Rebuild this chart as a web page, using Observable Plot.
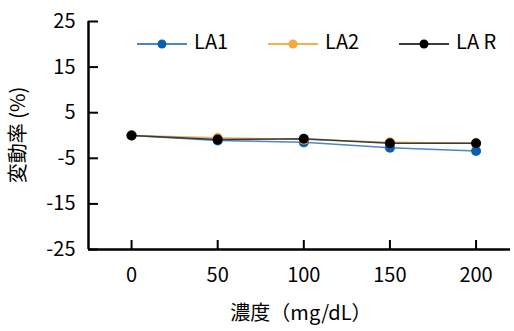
<!DOCTYPE html>
<html><head><meta charset="utf-8">
<script src="https://cdn.jsdelivr.net/npm/d3@7"></script>
<script src="https://cdn.jsdelivr.net/npm/@observablehq/plot@0.6"></script>
<style>
html,body{margin:0;padding:0;background:#fff;}
#wrap{position:relative;width:514px;height:331px;font-family:"Noto Sans CJK JP",sans-serif;}
</style></head>
<body><div id="wrap"></div>
<script>
const concentrations = [0, 50, 100, 150, 200];
const seriesNames = ["LA1", "LA2", "LA R"];
const la1 = [0, -1.1, -1.5, -2.7, -3.4];
const la2 = [0, -0.5, -0.9, -1.5, -1.7];
const laR = [0, -0.9, -0.7, -1.7, -1.7];
const yTicks = [25, 15, 5, -5, -15, -25];
const xTicks = [0, 50, 100, 150, 200];
const xDomain = [-25, 220];
const yDomain = [-25, 25];
const lineColors = ["#4a86c8", "#f7b04a", "#3a3a3a"];
const dotColors = ["#0a5fb4", "#f5a93a", "#000000"];

const values = [la1, la2, laR];
const data = [];
seriesNames.forEach((s, i) => concentrations.forEach((c, j) => data.push({series: s, x: c, y: values[i][j], idx: i})));

const W = 514, H = 331, mL = 88, mR = 4, mT = 21, mB = 82;
const fs = 20;

const marks = [];
seriesNames.forEach((s, i) => {
  const d = data.filter(r => r.series === s);
  marks.push(Plot.line(d, {x: "x", y: "y", stroke: lineColors[i], strokeWidth: 1.5}));
  marks.push(Plot.dot(d, {x: "x", y: "y", r: 5, fill: dotColors[i], stroke: "none"}));
});

const chart = Plot.plot({
  width: W, height: H,
  marginLeft: mL, marginRight: mR, marginTop: mT, marginBottom: mB,
  style: {fontFamily: '"Noto Sans CJK JP", sans-serif', fontSize: fs + "px", color: "#000", background: "#fff"},
  x: {domain: xDomain},
  y: {domain: yDomain},
  marks: [
    Plot.axisY(yTicks, {tickSize: 0, tickPadding: 13, fontSize: fs, label: null, tickFormat: d => String(d)}),
    Plot.axisX(xTicks, {tickSize: 0, tickPadding: 18, fontSize: fs, label: null}),
    Plot.tickY(yTicks, {y: d => d, stroke: "#000", strokeWidth: 2, insetRight: W - mL - mR - 10}),
    Plot.tickX(xTicks, {x: d => d, stroke: "#000", strokeWidth: 2, insetTop: H - mT - mB - 9}),
    Plot.ruleX([xDomain[0]], {stroke: "#000", strokeWidth: 2.5}),
    Plot.ruleY([yDomain[0]], {stroke: "#000", strokeWidth: 2.5}),
    ...marks
  ]
});
const wrap = document.getElementById("wrap");
wrap.appendChild(chart);

// axis titles
const svg = d3.select(chart);
svg.append("text").attr("x", 301).attr("y", 315).attr("text-anchor", "middle").attr("dominant-baseline", "middle")
  .attr("font-size", fs).attr("fill", "#000").text("濃度（mg/dL）");
svg.append("text").attr("transform", "translate(20,135) rotate(-90)").attr("text-anchor", "middle").attr("dominant-baseline", "middle")
  .attr("font-size", fs).attr("fill", "#000").text("変動率 (%)");

// legend
const lg = svg.append("g");
const lx = [137, 268, 399];
seriesNames.forEach((s, i) => {
  const g = lg.append("g").attr("transform", `translate(${lx[i]},44)`);
  g.append("line").attr("x1", 0).attr("x2", 50).attr("y1", 0).attr("y2", 0).attr("stroke", lineColors[i]).attr("stroke-width", 2);
  g.append("circle").attr("cx", 25).attr("cy", 0).attr("r", 4.5).attr("fill", dotColors[i]);
  g.append("text").attr("x", 57).attr("y", 0).attr("text-anchor", "start").attr("dominant-baseline", "middle").attr("font-size", fs).attr("fill", "#000").text(s);
});
</script></body></html>
